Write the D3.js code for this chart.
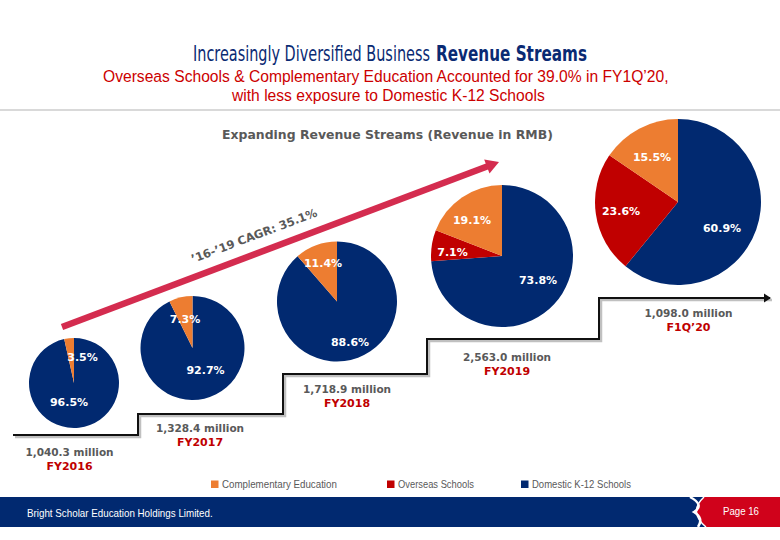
<!DOCTYPE html>
<html><head><meta charset="utf-8">
<script src="https://cdn.jsdelivr.net/npm/d3@7"></script>
<style>
html,body{margin:0;padding:0;background:#fff;}
svg{display:block;}
</style></head>
<body>
<div id="chart"></div>
<script>
// ---------------- DATA ----------------
const periods = ["FY2016", "FY2017", "FY2018", "FY2019", "F1Q’20"];
const revenueMillion = [1040.3, 1328.4, 1718.9, 2563.0, 1098.0];
const segments = ["Domestic K-12 Schools", "Overseas Schools", "Complementary Education"];
const domesticShare = [96.5, 92.7, 88.6, 73.8, 60.9];
const overseasShare = [0, 0, 0, 7.1, 23.6];
const complementaryShare = [3.5, 7.3, 11.4, 19.1, 15.5];
const legendOrder = ["Complementary Education", "Overseas Schools", "Domestic K-12 Schools"];
const cagrLabel = "’16-’19 CAGR: 35.1%";
const titleNormal = "Increasingly Diversified Business";
const titleBold = "Revenue Streams";
const subtitle1 = "Overseas Schools & Complementary Education Accounted for 39.0% in FY1Q’20,";
const subtitle2 = "with less exposure to Domestic K-12 Schools";
const chartTitle = "Expanding Revenue Streams (Revenue in RMB)";
const footerText = "Bright Scholar Education Holdings Limited.";
const pageText = "Page 16";

// ---------------- LAYOUT ----------------
const W = 780, H = 540;
const pieCX = [74, 192.5, 337, 502, 678];
const pieCY = [383, 348, 301.5, 256, 202];
const pieR  = [45, 52, 60, 71, 83];
// label offsets from pie centre, per slice [domestic, overseas, complementary]
const sliceLabelOffsets = [
  [[-5, 19], null, [8.5, -26]],
  [[13, 22], null, [-7.5, -29]],
  [[13, 40.5], null, [-14, -38.5]],
  [[36, 24], [-49.5, -4], [-30, -36]],
  [[44, 26], [-57, 9], [-26, -45]]
];
const revLabelX = [69.5, 200, 347, 507, 688.5];
const revLabelY = [456, 432, 393, 361, 317];
const stairX = [13, 138, 283, 427, 599, 770];
const stairY = [435, 414, 374, 339, 298, 298];

const colors = {
  "Domestic K-12 Schools": "#012970",
  "Overseas Schools": "#C00000",
  "Complementary Education": "#ED7D31"
};
const navy = "#012970";
const grayText = "#595959";
const red = "#C00000";

const svg = d3.select("#chart").append("svg").attr("width", W).attr("height", H);

// text squeezed horizontally to a target width via a scale transform
function fitText(x, y, width, str, attrs) {
  const g = svg.append("g");
  const t = g.append("text").attr("x", 0).attr("y", 0).text(str);
  Object.entries(attrs).forEach(([k, v]) => t.attr(k, v));
  const nat = t.node().getComputedTextLength();
  g.attr("transform", `translate(${x},${y}) scale(${width / nat},1)`);
  return t;
}

// ---------------- HEADER ----------------
const titleFont = "'Liberation Sans Narrow','DejaVu Sans Condensed','Liberation Sans',sans-serif";
fitText(193, 61, 237, titleNormal, { "font-family": titleFont, "font-size": 22, fill: "#0a2a73" });
fitText(436, 61, 151, titleBold, { "font-family": titleFont, "font-size": 22, "font-weight": "bold", fill: "#0a2a73" });

fitText(103, 82, 566, subtitle1, { "font-family": "'Liberation Sans',Arial,sans-serif", "font-size": 16.5, fill: "#CC0000" });
fitText(232, 100.5, 313, subtitle2, { "font-family": "'Liberation Sans',Arial,sans-serif", "font-size": 16.5, fill: "#CC0000" });
svg.append("rect").attr("x", 0).attr("y", 109).attr("width", W).attr("height", 2).attr("fill", "#d9d9d9");

fitText(222, 139, 331, chartTitle, { "font-family": "'DejaVu Sans',Verdana,sans-serif", "font-weight": "bold", "font-size": 12, fill: grayText });

// ---------------- CAGR ARROW ----------------
const ax0 = 62, ay0 = 327, ax1 = 499, ay1 = 162;
const ang = Math.atan2(ay1 - ay0, ax1 - ax0) * 180 / Math.PI;
const len = Math.hypot(ax1 - ax0, ay1 - ay0);
const ag = svg.append("g").attr("transform", `translate(${ax0},${ay0}) rotate(${ang})`);
ag.append("line").attr("x1", 0).attr("y1", 0).attr("x2", len - 10).attr("y2", 0)
  .attr("stroke", "#D42C4F").attr("stroke-width", 6.5);
ag.append("path").attr("d", `M${len - 13},-7.5 L${len},0 L${len - 13},7.5 Z`).attr("fill", "#D42C4F");
ag.append("text").attr("x", 212).attr("y", -13.5).attr("text-anchor", "middle")
  .attr("font-family", "'DejaVu Sans',Verdana,sans-serif").attr("font-weight", "bold")
  .attr("font-size", 11.5).attr("fill", grayText)
  .text(cagrLabel);

// ---------------- STAIRS ----------------
const stairPts = stairX.map((x, i) => [x, stairY[i]]);
const stairLine = d3.line().curve(d3.curveStepAfter);
svg.append("path").attr("d", stairLine(stairPts)).attr("transform", "translate(2,2)")
  .attr("fill", "none").attr("stroke", "#b0b0b0").attr("stroke-width", 2.5).attr("opacity", 0.8);
svg.append("path").attr("d", stairLine(stairPts))
  .attr("fill", "none").attr("stroke", "#111").attr("stroke-width", 2);
const sx = stairX[stairX.length - 1], sy = stairY[stairY.length - 1];
svg.append("path").attr("d", `M${sx - 6},${sy - 4.5} L${sx + 1},${sy} L${sx - 6},${sy + 4.5} Z`).attr("fill", "#111");

// ---------------- PIES ----------------
const pie = d3.pie().sort(null).value(d => d.value);
periods.forEach((p, i) => {
  const data = [
    { key: segments[0], value: domesticShare[i] },
    { key: segments[1], value: overseasShare[i] },
    { key: segments[2], value: complementaryShare[i] }
  ];
  const arc = d3.arc().innerRadius(0).outerRadius(pieR[i]);
  const g = svg.append("g").attr("transform", `translate(${pieCX[i]},${pieCY[i]})`);
  const arcs = pie(data);
  g.selectAll("path").data(arcs.filter(a => a.data.value > 0)).join("path")
    .attr("d", arc).attr("fill", a => colors[a.data.key]);
  arcs.forEach((a, j) => {
    if (a.data.value <= 0) return;
    const off = sliceLabelOffsets[i][j];
    g.append("text").attr("x", off[0]).attr("y", off[1]).attr("dy", "0.36em")
      .attr("text-anchor", "middle")
      .attr("font-family", "'DejaVu Sans',Verdana,sans-serif").attr("font-weight", "bold")
      .attr("font-size", 11).attr("fill", "#fff")
      .text(d3.format(".1f")(a.data.value) + "%");
  });
  // revenue labels
  svg.append("text").attr("x", revLabelX[i]).attr("y", revLabelY[i]).attr("text-anchor", "middle")
    .attr("font-family", "'DejaVu Sans',Verdana,sans-serif").attr("font-weight", "bold")
    .attr("font-size", 10.5).attr("fill", grayText)
    .text(d3.format(",.1f")(revenueMillion[i]) + " million");
  svg.append("text").attr("x", revLabelX[i]).attr("y", revLabelY[i] + 14).attr("text-anchor", "middle")
    .attr("font-family", "'DejaVu Sans',Verdana,sans-serif").attr("font-weight", "bold")
    .attr("font-size", 11).attr("fill", red)
    .text(p);
});

// ---------------- LEGEND ----------------
const legX = [211, 387, 521];
const legW = [115, 76, 99];
legendOrder.forEach((k, i) => {
  svg.append("rect").attr("x", legX[i]).attr("y", 480.5).attr("width", 7.5).attr("height", 7.5).attr("fill", colors[k]);
  fitText(legX[i] + 11, 488, legW[i], k, { "font-family": "'Liberation Sans',Arial,sans-serif", "font-size": 10.5, fill: grayText });
});

// ---------------- FOOTER ----------------
svg.append("rect").attr("x", 0).attr("y", 497).attr("width", W).attr("height", 30).attr("fill", navy);
svg.append("path").attr("d", "M704,497 Q688,512 706,527 L780,527 L780,497 Z").attr("fill", "#D0021B");
svg.append("path").attr("d", "M690,497 Q705,505 694,512 Q704,518 698,527")
  .attr("fill", "none").attr("stroke", "#fff").attr("stroke-width", 2.5);
svg.append("path").attr("d", "M704,497 Q688,512 706,527")
  .attr("fill", "none").attr("stroke", "#fff").attr("stroke-width", 1.5);
fitText(27, 516.5, 186, footerText, { "font-family": "'Liberation Sans',Arial,sans-serif", "font-size": 10, fill: "#fff" });
fitText(723, 515, 36, pageText, { "font-family": "'Liberation Sans',Arial,sans-serif", "font-size": 10, fill: "#fff" });
</script>
</body></html>
